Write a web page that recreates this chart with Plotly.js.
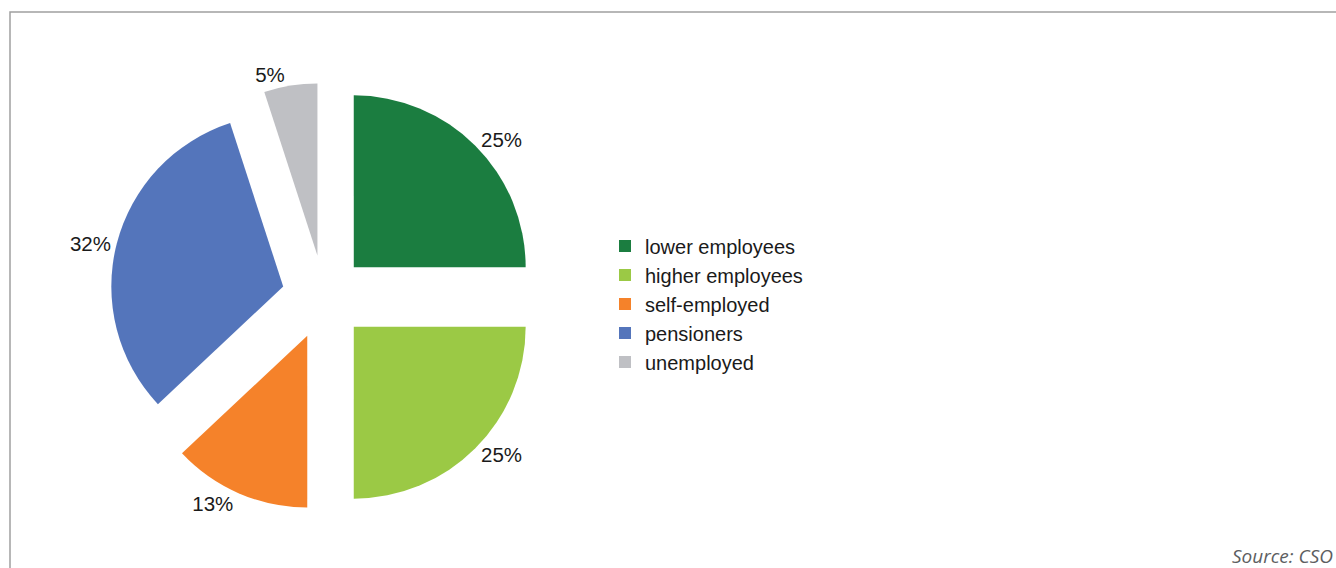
<!DOCTYPE html>
<html>
<head>
<meta charset="utf-8">
<script src="https://cdn.plot.ly/plotly-3.0.1.min.js"></script>
<style>html,body{margin:0;padding:0;background:#fff;}#chart{width:1336px;height:568px;}</style>
</head>
<body>
<div id="chart"></div>
<script>
const categories = ["lower employees", "higher employees", "self-employed", "pensioners", "unemployed"];
const shares = [25, 25, 13, 32, 5];
const colors = ["#1b7d40", "#9bc945", "#f5822a", "#5475bb", "#bfc0c4"];
const sourceText = "Source: CSO";

const W = 1336, H = 568;
const trace = {
  type: "pie",
  labels: categories,
  values: shares,
  sort: false,
  direction: "clockwise",
  rotation: 0,
  pull: [0.245, 0.245, 0.245, 0.245, 0.245],
  marker: {colors: colors, line: {width: 0}},
  textposition: "outside",
  texttemplate: "%{value}%",
  textfont: {family: "Liberation Sans, Arial, sans-serif", size: 20.5, color: "#1a1a1a"},
  hoverinfo: "label+percent",
  domain: {x: [110 / W, 538 / W], y: [(H - 511) / H, (H - 83) / H]}
};

const layout = {
  width: W, height: H,
  margin: {l: 0, r: 0, t: 0, b: 0},
  paper_bgcolor: "#ffffff",
  showlegend: true,
  legend: {
    x: 605 / W, xanchor: "left",
    y: (H - 304) / H, yanchor: "middle",
    bgcolor: "rgba(0,0,0,0)",
    font: {family: "Liberation Sans, Arial, sans-serif", size: 20, color: "#1a1a1a"},
    traceorder: "normal"
  },
  shapes: [{
    type: "rect", xref: "paper", yref: "paper",
    x0: 10 / W, x1: 1.02, y0: -0.02, y1: 1 - 12 / H,
    line: {color: "#a0a0a0", width: 1.5},
    fillcolor: "rgba(0,0,0,0)"
  }],
  annotations: [{
    text: sourceText,
    xref: "paper", yref: "paper",
    x: 1335 / W, xanchor: "right",
    y: (H - 556) / H, yanchor: "middle",
    showarrow: false,
    font: {family: "Open Sans, Liberation Sans, sans-serif", size: 19, color: "#5d5e61", style: "italic"}
  }]
};

Plotly.newPlot("chart", [trace], layout, {displayModeBar: false, staticPlot: true});
</script>
</body>
</html>
